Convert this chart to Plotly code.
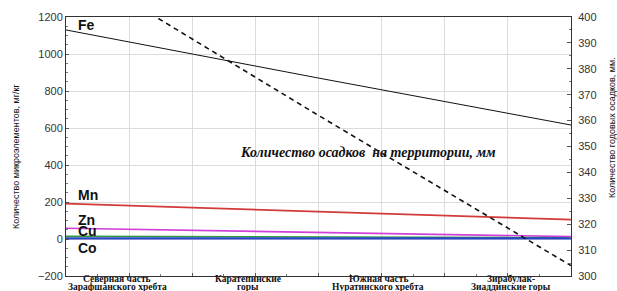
import plotly.graph_objects as go

# ---- data ----
x_pos = [0, 4, 8]                      # positions along the transect (left edge, middle, right edge)
fe = [1130, 870, 616]
mn = [191, 148, 105]
zn = [58, 35, 13]
cu = [15, 11, 7]
co = [3, 3, 3]
precip = [421, 362, 304]               # annual precipitation, mm (right axis)

cat_line1 = ["Северная часть", "Каратепинские", "Южная часть", "Зирабулак-"]
cat_line2 = ["Зарафшанского хребта", "горы", "Нуратинского хребта", "Зиаддинские горы"]
cat_pos = [0.81, 2.89, 4.95, 7.05]

left_ticks = [-200, 0, 200, 400, 600, 800, 1000, 1200]
right_ticks = [300, 310, 320, 330, 340, 350, 360, 370, 380, 390, 400]

elem_names = ["Fe", "Mn", "Zn", "Cu", "Co"]
elem_label_y = [1155, 240, 104, 44, -50]

fig = go.Figure()

series = [
    (fe, "Fe", "#111111", 1),
    (mn, "Mn", "#d23a3a", 1.6),
    (zn, "Zn", "#d040d8", 1.6),
    (cu, "Cu", "#2f9a3a", 1.6),
    (co, "Co", "#2a46c8", 2.2),
]
for vals, name, col, w in series:
    fig.add_trace(go.Scatter(x=x_pos, y=vals, mode="lines", name=name,
                             line=dict(color=col, width=w), yaxis="y"))

fig.add_trace(go.Scatter(x=x_pos, y=precip, mode="lines", name="Осадки",
                         line=dict(color="#111111", width=1.6, dash="5px,4px"),
                         yaxis="y2"))

tickfont = dict(family="Liberation Sans, Arial, sans-serif", size=11, color="#333333")

fig.update_layout(
    width=617, height=291, autosize=False,
    margin=dict(l=66, r=46, t=17, b=15),
    paper_bgcolor="white", plot_bgcolor="white",
    showlegend=False,
    xaxis=dict(range=[0, 8], dtick=1, tick0=0, showgrid=True, gridcolor="#dcdcdc",
               gridwidth=1, showticklabels=False, ticks="inside", ticklen=3,
               tickcolor="#555", showline=True, linecolor="#333", linewidth=1,
               mirror=True, zeroline=False,
               minor=dict(ticks="inside", ticklen=2, dtick=0.5, tickcolor="#777")),
    yaxis=dict(range=[-200, 1200], tickvals=left_ticks, showgrid=True,
               gridcolor="#dcdcdc", gridwidth=1, zeroline=False, ticks="inside",
               ticklen=3, tickcolor="#555", showline=True, linecolor="#333",
               linewidth=1, mirror=True, tickfont=tickfont, automargin=False,
               minor=dict(ticks="inside", ticklen=2, dtick=50, tickcolor="#777")),
    yaxis2=dict(range=[300, 400], tickvals=right_ticks, overlaying="y", side="right",
                showgrid=False, zeroline=False, ticks="inside", ticklen=4,
                tickcolor="#555", showline=True, linecolor="#333", linewidth=1,
                tickfont=tickfont, automargin=False, ticklabelstandoff=4,
                minor=dict(ticks="inside", ticklen=2, dtick=5, tickcolor="#777")),
)

# element labels
for name, yv in zip(elem_names, elem_label_y):
    fig.add_annotation(x=0.16, y=yv, xref="x", yref="y", text=f"<b>{name}</b>",
                       showarrow=False, xanchor="left", yanchor="middle",
                       font=dict(family="Liberation Sans, Arial, sans-serif",
                                 size=14, color="#111"))

# precipitation label
fig.add_annotation(x=4.78, y=347.7, xref="x", yref="y2",
                   text="<b><i>Количество осадков  на территории, мм</i></b>",
                   showarrow=False, xanchor="center", yanchor="middle",
                   font=dict(family="Liberation Serif, Times New Roman, serif",
                             size=14, color="#111"))

# category labels (two tight lines)
catfont = dict(family="Liberation Serif, Times New Roman, serif", size=9.5, color="#111")
for xp, l1, l2 in zip(cat_pos, cat_line1, cat_line2):
    fig.add_annotation(x=xp, y=0, xref="x", yref="paper", text=f"<b>{l1}</b>",
                       showarrow=False, xanchor="center", yanchor="middle",
                       yshift=-3, font=catfont)
    fig.add_annotation(x=xp, y=0, xref="x", yref="paper", text=f"<b>{l2}</b>",
                       showarrow=False, xanchor="center", yanchor="middle",
                       yshift=-10.5, font=catfont)

# axis titles
titlefont = dict(family="Liberation Sans, Arial, sans-serif", size=9, color="#111")
fig.add_annotation(x=-0.099, y=0.463, xref="paper", yref="paper",
                   text="Количество микроэлементов, мг/кг", textangle=-90,
                   showarrow=False, xanchor="center", yanchor="middle", font=titlefont)
fig.add_annotation(x=1.081, y=0.575, xref="paper", yref="paper",
                   text="Количество годовых осадков, мм.", textangle=-90,
                   showarrow=False, xanchor="center", yanchor="middle", font=titlefont)

# remove the default page margin so the figure fills the 617x291 window exactly
fig.write_html("out.html", config={"displayModeBar": False},
               post_script="document.body.style.margin='0';document.body.style.overflow='hidden';")
